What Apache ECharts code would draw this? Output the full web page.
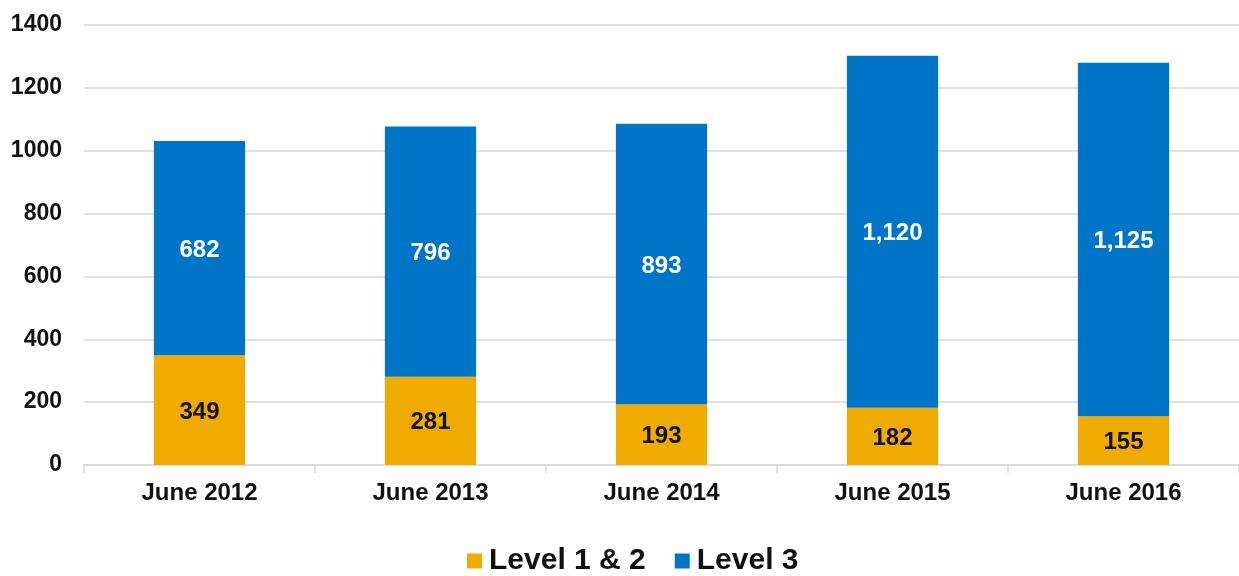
<!DOCTYPE html>
<html>
<head>
<meta charset="utf-8">
<script src="https://cdn.jsdelivr.net/npm/echarts@6/dist/echarts.min.js"></script>
<style>
html,body{margin:0;padding:0;background:#fff;}
#chart{width:1239px;height:576px;}
</style>
</head>
<body>
<div id="chart"></div>
<script>
const categories = ['June 2012', 'June 2013', 'June 2014', 'June 2015', 'June 2016'];
const level12 = [349, 281, 193, 182, 155];
const level3 = [682, 796, 893, 1120, 1125];
const yTicks = { min: 0, max: 1400, interval: 200 };

const FONT = '"Liberation Sans", Arial, sans-serif';
const chart = echarts.init(document.getElementById('chart'), null, { renderer: 'canvas' });
const fmt = p => Number(p.value).toLocaleString('en-US');

chart.setOption({
  animation: false,
  backgroundColor: '#ffffff',
  grid: { left: 84, right: 0, top: 25, bottom: 111, containLabel: false },
  legend: {
    top: 541,
    left: 462,
    icon: 'rect',
    itemWidth: 15,
    itemHeight: 15,
    itemGap: 29,
    textStyle: { fontFamily: FONT, fontWeight: 'bold', fontSize: 30, color: '#111', padding: [0, 0, 0, 2] },
    data: ['Level 1 & 2', 'Level 3']
  },
  xAxis: {
    type: 'category',
    data: categories,
    axisLine: { lineStyle: { color: '#d9d9d9', width: 1.5 } },
    axisTick: { show: true, length: 8, lineStyle: { color: '#d9d9d9', width: 1.5 } },
    axisLabel: { margin: 16, fontFamily: FONT, fontWeight: 'bold', fontSize: 24, color: '#111' }
  },
  yAxis: {
    type: 'value',
    min: yTicks.min, max: yTicks.max, interval: yTicks.interval,
    axisLine: { show: false },
    axisTick: { show: false },
    splitLine: { lineStyle: { color: '#d9d9d9', width: 1.5 } },
    axisLabel: { margin: 22, fontFamily: FONT, fontWeight: 'bold', fontSize: 23, color: '#111', formatter: v => String(v) }
  },
  series: [
    {
      name: 'Level 1 & 2', type: 'bar', stack: 'total', barWidth: '39.5%',
      itemStyle: { color: '#F0AB00' },
      label: { show: true, position: 'inside', offset: [0, 2], formatter: fmt, fontFamily: FONT, fontWeight: 'bold', fontSize: 24, color: '#111' },
      data: level12
    },
    {
      name: 'Level 3', type: 'bar', stack: 'total', barWidth: '39.5%',
      itemStyle: { color: '#0074C6' },
      label: { show: true, position: 'inside', offset: [0, 2], formatter: fmt, fontFamily: FONT, fontWeight: 'bold', fontSize: 24, color: '#ffffff' },
      data: level3
    }
  ]
});
</script>
</body>
</html>
